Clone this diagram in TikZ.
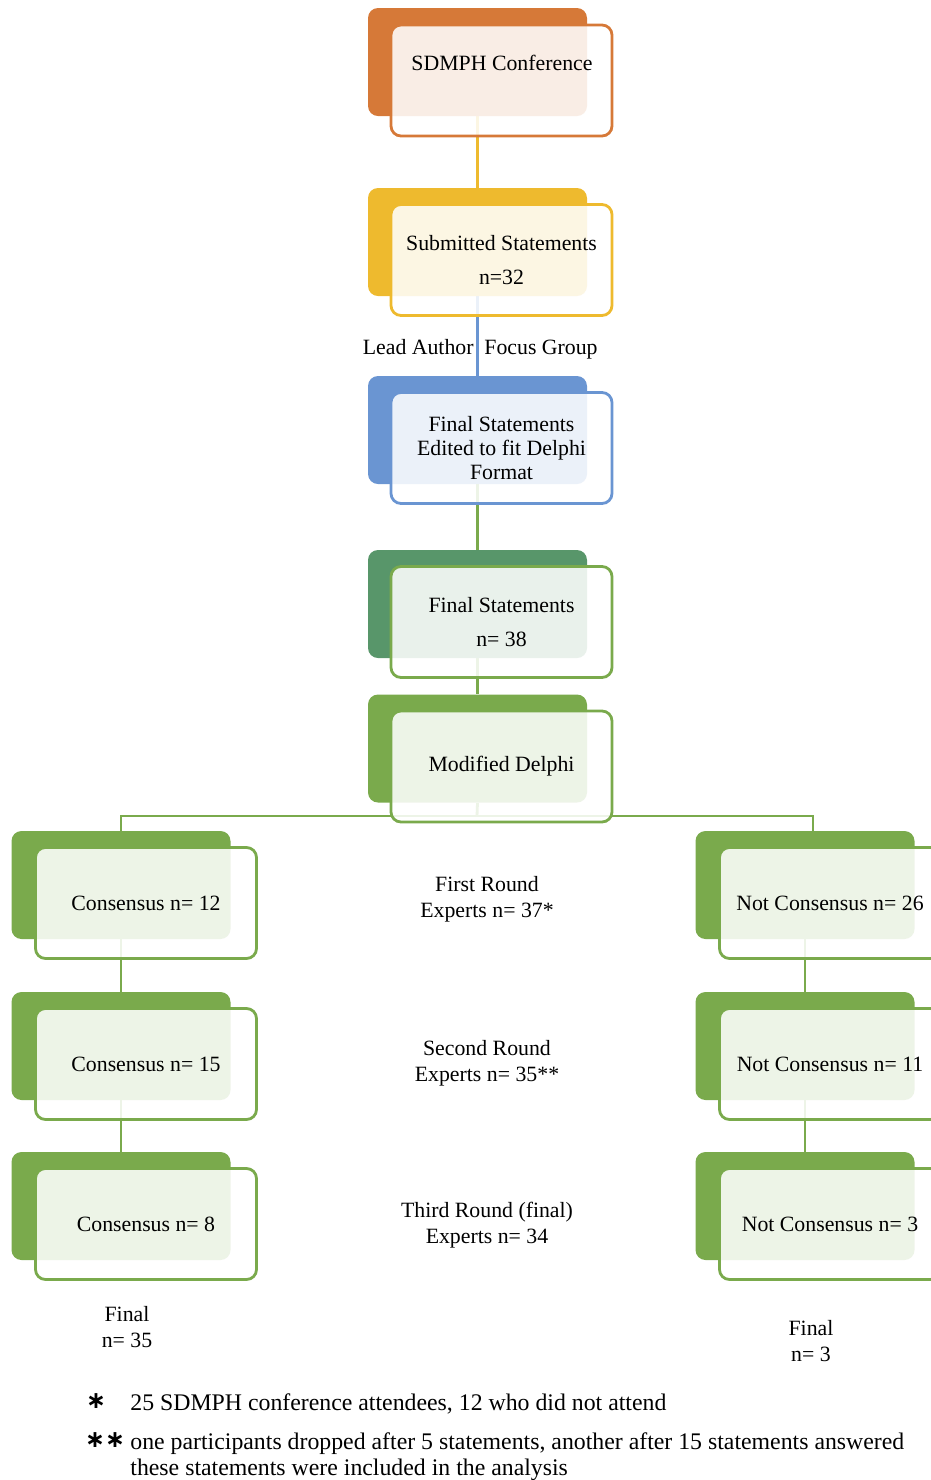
\documentclass[tikz,border=0pt]{standalone}
\usepackage{fontspec}
\setmainfont{Liberation Serif}
\newfontfamily\starfont{DejaVu Sans}
\usetikzlibrary{calc}

\definecolor{confOrange}{RGB}{214,121,56}
\definecolor{subYellow}{RGB}{238,186,46}
\definecolor{editBlue}{RGB}{106,149,210}
\definecolor{finGreen}{RGB}{88,150,106}
\definecolor{delGreen}{RGB}{122,170,76}

\pgfdeclarelayer{bg}
\pgfsetlayers{bg,main}

\begin{document}
\begin{tikzpicture}[x=0.5pt, y=-0.5pt,
    font=\fontsize{10.9}{13}\selectfont,
    backbox/.style={rectangle, rounded corners=5pt, fill=#1, inner sep=0pt,
        minimum width=109.5pt, minimum height=54pt},
    frontbox/.style={rectangle, rounded corners=5pt, draw=#1, line width=1.4pt,
        fill=white, fill opacity=0.87, text opacity=1, inner sep=0pt, align=center,
        minimum width=110.5pt, minimum height=55.5pt},
    link/.style={line width=1.4pt, draw=#1},
    txt/.style={align=center, inner sep=0pt},
    note/.style={inner sep=0pt, font=\fontsize{11.9}{13}\selectfont}]

    \useasboundingbox (0,0) rectangle (931,1480);

    % Back boxes of the main column
    \node[backbox=confOrange] (confB) at (477.5,62) {};
    \node[backbox=subYellow] (subB) at (477.5,242) {};
    \node[backbox=editBlue] (editB) at (477.5,430) {};
    \node[backbox=finGreen] (finB) at (477.5,604) {};
    \node[backbox=delGreen] (delB) at (477.5,748.5) {};

    % Back boxes of the two branches
    \node[backbox=delGreen] (c1B) at (121,885) {};
    \node[backbox=delGreen] (c2B) at (121,1046) {};
    \node[backbox=delGreen] (c3B) at (121,1206) {};
    \node[backbox=delGreen] (nc1B) at (805,885) {};
    \node[backbox=delGreen] (nc2B) at (805,1046) {};
    \node[backbox=delGreen] (nc3B) at (805,1206) {};

    % Connectors (behind the boxes)
    \coordinate (split) at (477,816);
    \coordinate (splitR) at (813,816);
    \begin{pgfonlayer}{bg}
        \draw[link=subYellow] (confB.south) -- (subB.north);
        \draw[link=editBlue] (subB.south) -- (editB.north);
        \draw[link=delGreen] (editB.south) -- (finB.north);
        \draw[link=delGreen] (finB.south) -- (delB.north);
        \draw[link=delGreen] (delB.south) -- (split);
        \draw[link=delGreen] (c1B.north) |- (splitR) -- (splitR |- nc1B.north);
        \draw[link=delGreen] (c1B.south) -- (c2B.north);
        \draw[link=delGreen] (c2B.south) -- (c3B.north);
        \draw[link=delGreen] (nc1B.south) -- (nc2B.north);
        \draw[link=delGreen] (nc2B.south) -- (nc3B.north);
    \end{pgfonlayer}

    % Front boxes with the texts
    \node[frontbox=confOrange] (conf) at ($(confB.center)+(24,18.5)$) {};
    \node[txt] (confT) at (502,63) {SDMPH Conference};
    \node[frontbox=subYellow] (sub) at ($(subB.center)+(24,18)$) {Submitted Statements\\[4pt]n=32};
    \node[frontbox=editBlue] (edit) at ($(editB.center)+(24,18)$) {Final Statements\\[-1pt]Edited to fit Delphi\\[-1pt]Format};
    \node[frontbox=delGreen] (fin) at ($(finB.center)+(24,18)$) {Final Statements\\[4pt]n= 38};
    \node[frontbox=delGreen] (del) at ($(delB.center)+(24,18)$) {Modified Delphi};

    \node[frontbox=delGreen] (c1) at ($(c1B.center)+(25,18)$) {Consensus n= 12};
    \node[frontbox=delGreen] (c2) at ($(c2B.center)+(25,18)$) {Consensus n= 15};
    \node[frontbox=delGreen] (c3) at ($(c3B.center)+(25,18)$) {Consensus n= 8};
    \node[frontbox=delGreen] (nc1) at ($(nc1B.center)+(25,18)$) {Not Consensus n= 26};
    \node[frontbox=delGreen] (nc2) at ($(nc2B.center)+(25,18)$) {Not Consensus n= 11};
    \node[frontbox=delGreen] (nc3) at ($(nc3B.center)+(25,18)$) {Not Consensus n= 3};

    % Labels beside the column
    \node[txt, anchor=base east] (lead) at (474,354) {Lead Author};
    \node[txt, anchor=base west] (focus) at (484,354) {Focus Group};

    \node[txt] (round1) at (487,899) {First Round\\Experts n= 37*};
    \node[txt] (round2) at (487,1063) {Second Round\\Experts n= 35**};
    \node[txt] (round3) at (487,1225) {Third Round (final)\\Experts n= 34};

    \node[txt] (finalL) at (127,1327) {Final\\n= 35};
    \node[txt] (finalR) at (811,1341) {Final\\n= 3};

    % Footnotes
    \node[note] (star1) at (96,1401) {\starfont\bfseries ∗};
    \node[note, anchor=base west] (note1) at (130,1410) {25 SDMPH conference attendees, 12 who did not attend};
    \node[note] (star2) at (105,1440) {\starfont\bfseries ∗∗};
    \node[note, anchor=base west] (note2) at (130,1449) {one participants dropped after 5 statements, another after 15 statements answered};
    \node[note, anchor=base west] (note3) at (130,1475) {these statements were included in the analysis};

\end{tikzpicture}
\end{document}
